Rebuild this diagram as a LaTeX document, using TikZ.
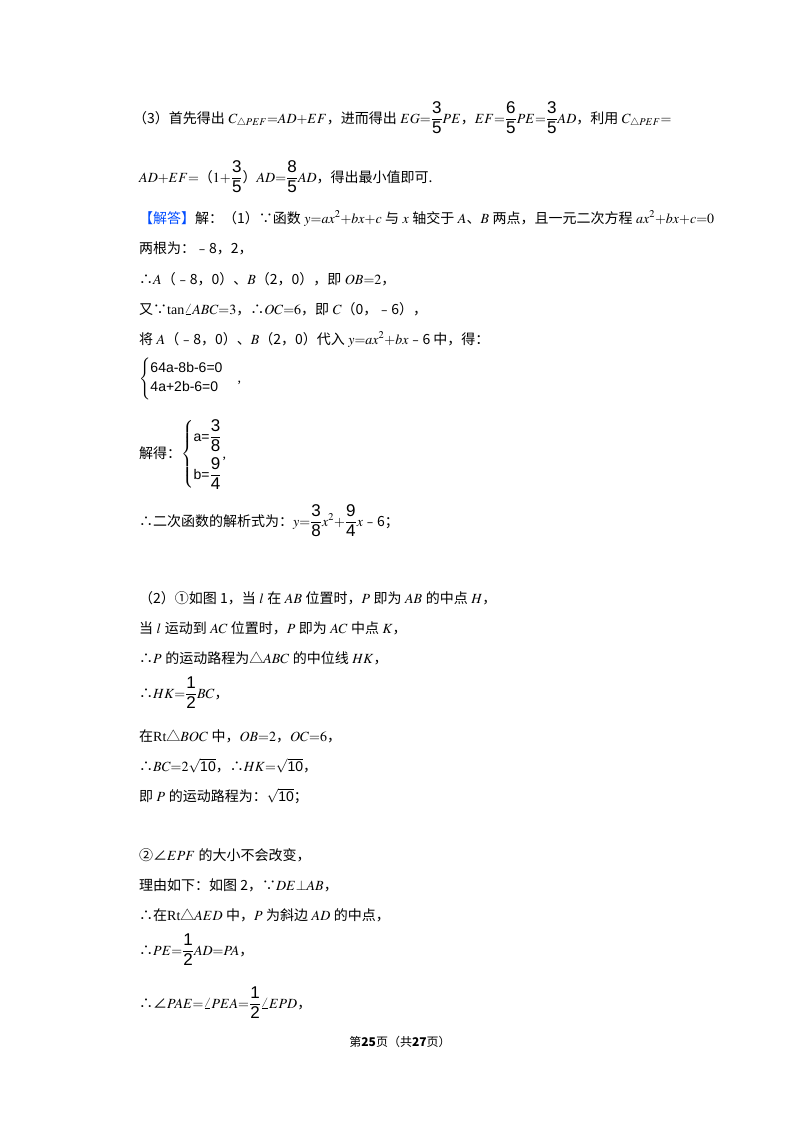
\documentclass[tikz,border=0pt]{standalone}
\usepackage{amsmath}
\usepackage{mathptmx}
\usepackage{fontspec}
\setmainfont{Liberation Serif}
\newfontfamily\cjk{Noto Sans CJK SC}
\newfontfamily\sfa{Liberation Sans}
\newcommand{\z}[1]{{\cjk #1}}
\newcommand{\fr}[2]{\dfrac{\text{\sfa\fontsize{17}{17}\selectfont #1}}{\text{\sfa\fontsize{17}{17}\selectfont #2}}}
\tikzset{ln/.style={anchor=base west,inner sep=0pt,font=\fontsize{14}{16}\selectfont}}
\begin{document}
\begin{tikzpicture}[x=1pt,y=-1pt]
\useasboundingbox (0,0) rectangle (800,1132);
\node[ln] (l1) at (133,123) {\z{（3）首先得出} $C_{\triangle PEF}{=}AD{+}EF$\z{，进而得出} $EG{=}\fr{3}{5}PE$\z{，}$EF{=}\fr{6}{5}PE{=}\fr{3}{5}AD$\z{，利用} $C_{\triangle PEF}{=}$};
\node[ln] (l2) at (139,182) {$AD{+}EF{=}$\z{（}$1{+}\fr{3}{5}$\z{）}$AD{=}\fr{8}{5}AD$\z{，得出最小值即可.}};
\node[ln] (l3) at (139,223) {\z{\textcolor{blue!70!cyan}{【解答】}解：（1）∵函数} $y{=}ax^2{+}bx{+}c$ \z{与} $x$ \z{轴交于} $A$\z{、}$B$ \z{两点，且一元二次方程} $ax^2{+}bx{+}c{=}0$};
\node[ln] (l4) at (139,253) {\z{两根为：﹣8，2，}};
\node[ln] (l5) at (139,284) {\z{∴}$A$\z{（﹣8，0）、}$B$\z{（2，0），即} $OB{=}2$\z{，}};
\node[ln] (l6) at (139,314) {\z{又∵}tan$\angle ABC{=}3$\z{，∴}$OC{=}6$\z{，即} $C$\z{（0，﹣6），}};
\node[ln] (l7) at (139,344) {\z{将} $A$\z{（﹣8，0）、}$B$\z{（2，0）代入} $y{=}ax^2{+}bx$\z{﹣6 中，得：}};
\node[ln] (l8) at (139,382) {$\begin{cases}\text{\sfa\fontsize{14}{15}\selectfont 64a-8b-6=0}\\ \text{\sfa\fontsize{14}{15}\selectfont 4a+2b-6=0}\end{cases}$,};
\node[ln] (l9) at (139,458) {\z{解得：}$\left\{\begin{aligned}&\text{\sfa a=}\fr{3}{8}\\[2pt]&\text{\sfa b=}\fr{9}{4}\end{aligned}\right.$,};
\node[ln] (l10) at (139,526) {\z{∴二次函数的解析式为：}$y{=}\fr{3}{8}x^2{+}\fr{9}{4}x$\z{﹣6；}};
\node[ln] (l11) at (139,603) {\z{（2）①如图 1，当} $l$ \z{在} $AB$ \z{位置时，}$P$ \z{即为} $AB$ \z{的中点} $H$\z{，}};
\node[ln] (l12) at (139,633) {\z{当} $l$ \z{运动到} $AC$ \z{位置时，}$P$ \z{即为} $AC$ \z{中点} $K$\z{，}};
\node[ln] (l13) at (139,663) {\z{∴}$P$ \z{的运动路程为△}$ABC$ \z{的中位线} $HK$\z{，}};
\node[ln] (l14) at (139,698) {\z{∴}$HK{=}\fr{1}{2}BC$\z{，}};
\node[ln] (l15) at (139,741) {\z{在}Rt\z{△}$BOC$ \z{中，}$OB{=}2$\z{，}$OC{=}6$\z{，}};
\node[ln] (l16) at (139,771) {\z{∴}$BC{=}2\sqrt{\text{\sfa 10}}$\z{，∴}$HK{=}\sqrt{\text{\sfa 10}}$\z{，}};
\node[ln] (l17) at (139,801) {\z{即} $P$ \z{的运动路程为：}$\sqrt{\text{\sfa 10}}$\z{；}};
\node[ln] (l18) at (139,860) {\z{②∠}$EPF$ \z{的大小不会改变，}};
\node[ln] (l19) at (139,890) {\z{理由如下：如图 2，∵}$DE{\perp}AB$\z{，}};
\node[ln] (l20) at (139,920) {\z{∴在}Rt\z{△}$AED$ \z{中，}$P$ \z{为斜边} $AD$ \z{的中点，}};
\node[ln] (l21) at (139,955) {\z{∴}$PE{=}\fr{1}{2}AD{=}PA$\z{，}};
\node[ln] (l22) at (139,1008) {\z{∴∠}$PAE{=}\angle PEA{=}\fr{1}{2}\angle EPD$\z{，}};
\node[ln,anchor=base] (ft) at (400,1046) {\fontsize{12}{14}\selectfont\z{第\textbf{25}页（共\textbf{27}页）}};
\end{tikzpicture}
\end{document}
